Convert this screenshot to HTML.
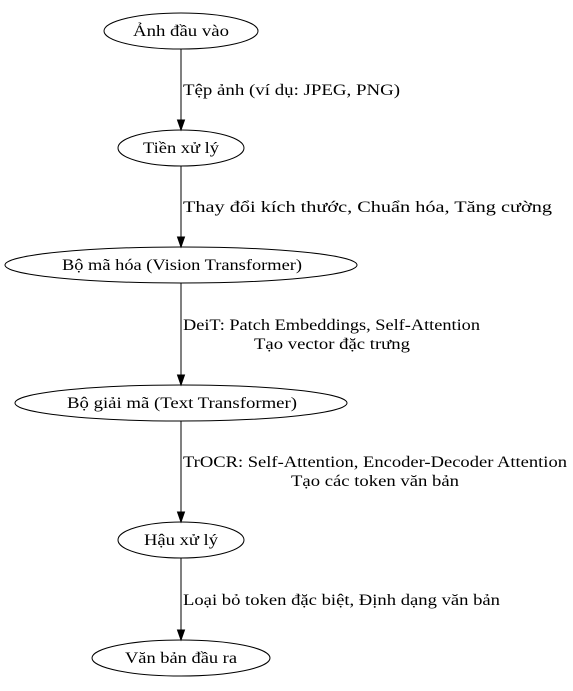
<!DOCTYPE html>
<html><head><meta charset="utf-8"><style>
html,body{margin:0;padding:0;background:#fff;}
svg text{font-family:"Liberation Serif","DejaVu Serif",serif;font-size:16px;fill:#000;}
</style></head><body>
<svg width="573" height="686" viewBox="0 0 573 686" xmlns="http://www.w3.org/2000/svg">
<g fill="none" stroke="#000" stroke-width="1">
<ellipse cx="181" cy="31" rx="77" ry="18"/>
<ellipse cx="181" cy="148" rx="63" ry="18"/>
<ellipse cx="181" cy="265" rx="176" ry="18"/>
<ellipse cx="181" cy="403" rx="166" ry="18"/>
<ellipse cx="181" cy="540" rx="63" ry="18"/>
<ellipse cx="181" cy="658" rx="89" ry="18"/>
<line x1="181" y1="49" x2="181" y2="120"/>
<line x1="181" y1="166" x2="181" y2="237"/>
<line x1="181" y1="283" x2="181" y2="375"/>
<line x1="181" y1="421" x2="181" y2="512"/>
<line x1="181" y1="558" x2="181" y2="630"/>
</g>
<g fill="#000" stroke="#000">
<polygon points="177.5,120 184.5,120 181,130"/>
<polygon points="177.5,237 184.5,237 181,247"/>
<polygon points="177.5,375 184.5,375 181,385"/>
<polygon points="177.5,512 184.5,512 181,522"/>
<polygon points="177.5,630 184.5,630 181,640"/>
</g>
<g>
<text x="133" y="36" textLength="96" lengthAdjust="spacingAndGlyphs">Ảnh đầu vào</text>
<text x="143" y="153" textLength="76" lengthAdjust="spacingAndGlyphs">Tiền xử lý</text>
<text x="62" y="270" textLength="240" lengthAdjust="spacingAndGlyphs">Bộ mã hóa (Vision Transformer)</text>
<text x="67" y="408" textLength="230" lengthAdjust="spacingAndGlyphs">Bộ giải mã (Text Transformer)</text>
<text x="144" y="545" textLength="74" lengthAdjust="spacingAndGlyphs">Hậu xử lý</text>
<text x="125" y="663" textLength="112" lengthAdjust="spacingAndGlyphs">Văn bản đầu ra</text>
<text x="254" y="349" textLength="156" lengthAdjust="spacingAndGlyphs">Tạo vector đặc trưng</text>
<text x="291" y="486" textLength="168" lengthAdjust="spacingAndGlyphs">Tạo các token văn bản</text>
<text x="183" y="95" textLength="217" lengthAdjust="spacingAndGlyphs">Tệp ảnh (ví dụ: JPEG, PNG)</text>
<text x="183" y="212" textLength="369" lengthAdjust="spacingAndGlyphs">Thay đổi kích thước, Chuẩn hóa, Tăng cường</text>
<text x="183" y="330" textLength="297" lengthAdjust="spacingAndGlyphs">DeiT: Patch Embeddings, Self-Attention</text>
<text x="183" y="467" textLength="384" lengthAdjust="spacingAndGlyphs">TrOCR: Self-Attention, Encoder-Decoder Attention</text>
<text x="183" y="605" textLength="317" lengthAdjust="spacingAndGlyphs">Loại bỏ token đặc biệt, Định dạng văn bản</text>
</g>
</svg>
</body></html>
